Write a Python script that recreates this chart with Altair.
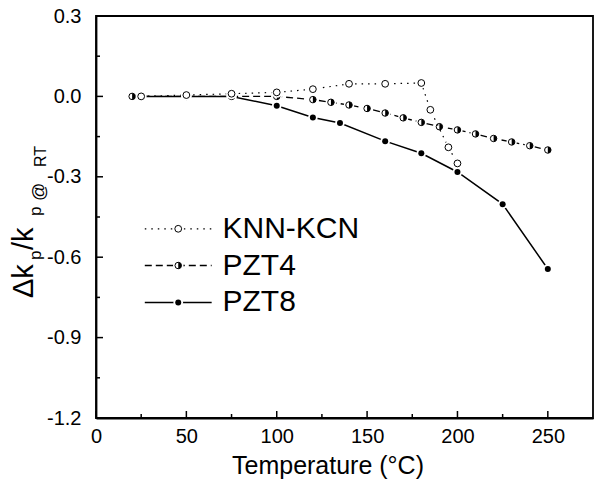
import altair as alt
import pandas as pd

# ---------------- data ----------------
knn_x = [25, 50, 75, 100, 120, 140, 160, 180, 185, 195, 200]
knn_y = [0.0, 0.005, 0.01, 0.015, 0.027, 0.047, 0.047, 0.05, -0.05, -0.19, -0.25]

pzt4_x = [20, 50, 75, 100, 120, 130, 140, 150, 160, 170, 180, 190, 200, 210, 220, 230, 240, 250]
pzt4_y = [0.0, 0.0, 0.0, 0.0, -0.012, -0.022, -0.032, -0.045, -0.062, -0.08, -0.097,
          -0.113, -0.125, -0.14, -0.157, -0.17, -0.184, -0.2]

pzt8_x = [20, 50, 75, 100, 120, 135, 160, 180, 200, 225, 250]
pzt8_y = [0.0, 0.0, 0.0, -0.035, -0.079, -0.099, -0.167, -0.212, -0.282, -0.402, -0.644]

series_names = ["KNN-KCN", "PZT4", "PZT8"]

x_major = [0, 50, 100, 150, 200, 250]
x_minor = [25, 75, 125, 175, 225]
y_major = [0.3, 0.0, -0.3, -0.6, -0.9, -1.2]
y_minor = [0.15, -0.15, -0.45, -0.75, -1.05]

# ---------------- layout ----------------
W, H = 497, 402
FONT = "Liberation Sans"
HALF = "M0,-1 A1,1 0 0,1 0,1 Z"

xs = alt.Scale(domain=[0, 275], nice=False, zero=False)
ys = alt.Scale(domain=[-1.2, 0.3], nice=False, zero=False)

xaxis = alt.Axis(values=x_major, format="d", title=None, grid=False, ticks=False,
                 labelFont=FONT, labelFontSize=20, labelColor="black", labelPadding=8,
                 labelFlush=False, labelOverlap=False, domainColor="black", domainWidth=1.8)
yaxis = alt.Axis(values=y_major, title=None, grid=False, ticks=False,
                 labelExpr="replace(format(datum.value, '.1f'), '\u2212', '-')",
                 labelFont=FONT, labelFontSize=20, labelColor="black", labelPadding=15,
                 labelFlush=False, labelOverlap=False, domainColor="black", domainWidth=1.8)


def X(f):
    return alt.X(f"{f}:Q", scale=xs, axis=xaxis)


def Y(f):
    return alt.Y(f"{f}:Q", scale=ys, axis=yaxis)


def marker_layers(src, kind, size):
    enc = dict(x=X("t"), y=Y("v"))
    halo = alt.Chart(src).mark_point(shape="circle", filled=True, color="white",
                                     opacity=1, size=size * 2.6).encode(**enc)
    out = [halo]
    if kind == "filled":
        out.append(alt.Chart(src).mark_point(shape="circle", filled=True, color="black",
                                             opacity=1, size=size).encode(**enc))
    else:
        out.append(alt.Chart(src).mark_point(shape="circle", filled=True, fill="white",
                                             stroke="black", strokeWidth=1, opacity=1,
                                             size=size).encode(**enc))
        if kind == "half":
            out.append(alt.Chart(src).mark_point(shape=HALF, filled=True, color="black",
                                                 opacity=1, size=size).encode(**enc))
    return out


styles = {
    "PZT8": dict(x=pzt8_x, y=pzt8_y, dash=None, width=1.5, kind="filled", size=36),
    "PZT4": dict(x=pzt4_x, y=pzt4_y, dash=[7, 4], width=1.3, kind="half", size=42),
    "KNN-KCN": dict(x=knn_x, y=knn_y, dash=[1.5, 5], width=1.2, kind="open", size=46),
}
legend_y = {"KNN-KCN": -0.494, "PZT4": -0.631, "PZT8": -0.769}

layers = []
for name in ["PZT8", "PZT4", "KNN-KCN"]:
    st = styles[name]
    df = pd.DataFrame({"t": st["x"], "v": st["y"]})
    lk = dict(color="black", strokeWidth=st["width"])
    if st["dash"]:
        lk["strokeDash"] = st["dash"]
    layers.append(alt.Chart(df).mark_line(**lk).encode(x=X("t"), y=Y("v")))
    layers += marker_layers(df, st["kind"], st["size"])

# legend (drawn inside the plot)
for name in series_names:
    st = styles[name]
    ly = legend_y[name]
    seg = pd.DataFrame({"t": [27, 64], "v": [ly, ly]})
    lk = dict(color="black", strokeWidth=st["width"])
    if st["dash"]:
        lk["strokeDash"] = st["dash"]
    layers.append(alt.Chart(seg).mark_line(**lk).encode(x=X("t"), y=Y("v")))
    mk = pd.DataFrame({"t": [45.5], "v": [ly]})
    layers += marker_layers(mk, st["kind"], st["size"])
    lab = pd.DataFrame({"t": [70], "v": [ly], "s": [name]})
    layers.append(alt.Chart(lab).mark_text(align="left", baseline="middle", font=FONT,
                                           fontSize=30, color="black").encode(
        x=X("t"), y=Y("v"), text="s:N"))

# ticks pointing inward
tx_major = pd.DataFrame({"t": x_major})
tx_minor = pd.DataFrame({"t": x_minor})
ty_major = pd.DataFrame({"v": y_major})
ty_minor = pd.DataFrame({"v": y_minor})
layers.append(alt.Chart(tx_major).mark_rule(color="black", strokeWidth=1.5).encode(
    x=X("t"), y=alt.value(H), y2=alt.value(H - 7)))
layers.append(alt.Chart(tx_minor).mark_rule(color="black", strokeWidth=1.5).encode(
    x=X("t"), y=alt.value(H), y2=alt.value(H - 4)))
layers.append(alt.Chart(ty_major).mark_rule(color="black", strokeWidth=1.5).encode(
    y=Y("v"), x=alt.value(0), x2=alt.value(7)))
layers.append(alt.Chart(ty_minor).mark_rule(color="black", strokeWidth=1.5).encode(
    y=Y("v"), x=alt.value(0), x2=alt.value(4)))

# axis titles composed of text pieces (sub/superscripts)
dummy = pd.DataFrame({"a": [0]})
ytitle = [("\u0394k", 29, -63, 282), ("p", 17, -55, 244), ("/k", 29, -63, 234),
          ("p", 17, -55, 200), ("@", 18, -51, 185), ("RT", 16, -50, 151)]
for txt, fs, px, py in ytitle:
    layers.append(alt.Chart(dummy).mark_text(text=txt, angle=270, align="left",
                                             baseline="alphabetic", font=FONT, fontSize=fs,
                                             color="black").encode(x=alt.value(px), y=alt.value(py)))
layers.append(alt.Chart(dummy).mark_text(text="Temperature (\u00b0C)", align="center",
                                         baseline="alphabetic", font=FONT, fontSize=25,
                                         color="black").encode(x=alt.value(232), y=alt.value(458)))

chart = alt.layer(*layers).properties(
    width=W, height=H,
    autosize=alt.AutoSizeParams(type="none"),
    padding={"left": 88, "top": 8, "right": 1, "bottom": 61},
).configure_view(stroke="black", strokeWidth=1.8)

chart.save("out.html", embed_options={"renderer": "svg", "actions": False})
